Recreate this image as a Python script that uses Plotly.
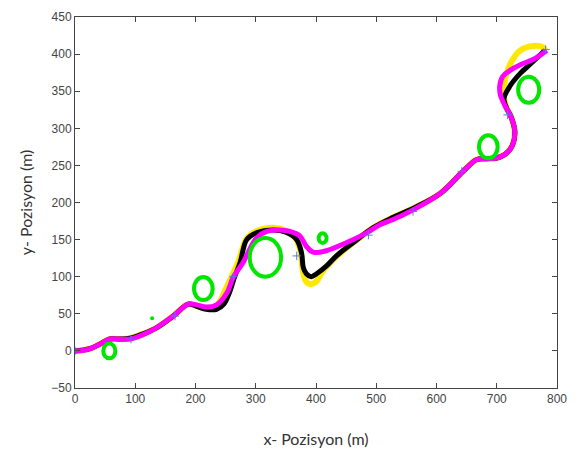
import plotly.graph_objects as go

# Reference path (yellow)
ref_x = [0, 25, 41, 58, 75, 91, 113, 135, 163, 188, 202, 218, 232, 240, 250, 262, 272, 284, 300, 330, 350, 366,
         374, 377, 380, 384, 390, 400, 412, 434, 462, 495, 528, 561, 606, 644, 667, 683, 700, 714, 726, 730,
         724, 716, 712, 713, 722, 739, 761, 777, 781]
ref_y = [0, 3, 9, 16, 16, 17, 23, 31, 47, 63, 61, 57, 58, 66, 83, 104, 122, 150, 161, 166, 162, 152,
         135, 115, 100, 93, 90, 93, 108, 127, 146, 166, 180, 192, 212, 242, 258, 259, 260, 265, 277, 295,
         315, 328, 342, 362, 386, 405, 411, 409, 405]

# Tracked path (black)
trk_x = [0, 25, 41, 58, 75, 91, 113, 135, 163, 188, 202, 218, 235, 247, 257, 265, 274, 285, 301, 329, 350, 368,
         376, 379, 384, 392, 401, 418, 434, 462, 495, 528, 561, 606, 644, 667, 683, 700, 714, 726, 730,
         724, 716, 712, 722, 739, 755, 780]
trk_y = [0, 3, 9, 16, 16, 17, 23, 31, 47, 63, 60, 56, 56, 63, 80, 100, 119, 150, 159, 163, 160, 150,
         132, 112, 104, 100, 104, 115, 128, 146, 166, 180, 192, 212, 242, 258, 259, 260, 265, 277, 295,
         315, 328, 340, 357, 374, 386, 405]

# Avoidance path (magenta)
avd_x = [0, 15, 25, 41, 50, 58, 75, 91, 113, 135, 163, 188, 202, 218, 235, 252, 263, 279, 290, 301, 318, 340, 357,
         373, 384, 395, 417, 451, 484, 506, 528, 561, 606, 644, 667, 683, 700, 714, 726, 730, 724, 714,
         706, 705, 710, 722, 740, 761, 783]
avd_y = [0, 1, 3, 9, 13, 16, 16, 16, 22, 31, 47, 63, 62, 59, 62, 78, 100, 119, 137, 152, 161, 163, 161,
         155, 141, 133, 135, 146, 159, 170, 177, 190, 212, 242, 258, 259, 260, 265, 277, 295, 315, 330,
         345, 357, 370, 378, 386, 393, 405]

# Waypoints
wp_x = [0, 93, 166, 263, 368, 487, 561, 642, 718, 781]
wp_y = [0, 16, 47, 100, 128, 156, 188, 242, 318, 406]

# Circular obstacles: centre and radius
obs_cx = [57, 213, 316, 411, 686, 753]
obs_cy = [0, 84, 126, 152, 275, 352]
obs_r = [10, 15.5, 26, 6.5, 15.5, 17.5]

# Single small obstacle point
pt_x = [128]
pt_y = [44]

x_ticks = [0, 100, 200, 300, 400, 500, 600, 700, 800]
y_ticks = [-50, 0, 50, 100, 150, 200, 250, 300, 350, 400, 450]

fig = go.Figure()
fig.add_trace(go.Scatter(x=ref_x, y=ref_y, mode="lines", line=dict(color="#ffe800", width=6, shape="spline"),
                         showlegend=False))
fig.add_trace(go.Scatter(x=trk_x, y=trk_y, mode="lines", line=dict(color="black", width=5, shape="spline"),
                         showlegend=False))
fig.add_trace(go.Scatter(x=avd_x, y=avd_y, mode="lines", line=dict(color="#ff00ff", width=5, shape="spline"),
                         showlegend=False))
fig.add_trace(go.Scatter(x=wp_x, y=wp_y, mode="markers",
                         marker=dict(symbol="cross-thin", size=6, line=dict(color="#5577ee", width=1)),
                         showlegend=False))
fig.add_trace(go.Scatter(x=pt_x, y=pt_y, mode="markers", marker=dict(color="#00e000", size=4),
                         showlegend=False))

for cx, cy, r in zip(obs_cx, obs_cy, obs_r):
    fig.add_shape(type="circle", xref="x", yref="y", x0=cx - r, x1=cx + r, y0=cy - r, y1=cy + r,
                  line=dict(color="#00e600", width=4), layer="above")

axis_common = dict(showline=True, linecolor="#444444", linewidth=1, mirror="ticks", ticks="inside",
                   ticklen=5, tickcolor="#444444", showgrid=False, zeroline=False,
                   tickfont=dict(family="Liberation Sans, Arial", size=12, color="#444444"))

fig.update_layout(
    width=578, height=456,
    margin=dict(l=75, r=21, t=10, b=68),
    plot_bgcolor="white", paper_bgcolor="white",
    xaxis=dict(range=[0, 800], tickvals=x_ticks, **axis_common,
               title=dict(text="x- Pozisyon (m)", font=dict(family="Lato, Open Sans", size=16, color="#333333"),
                          standoff=28)),
    yaxis=dict(range=[-50, 450], tickvals=y_ticks, **axis_common,
               title=dict(text="y- Pozisyon (m)", font=dict(family="Lato, Open Sans", size=16, color="#333333"),
                          standoff=14)),
)

fig.write_html("out.html")
